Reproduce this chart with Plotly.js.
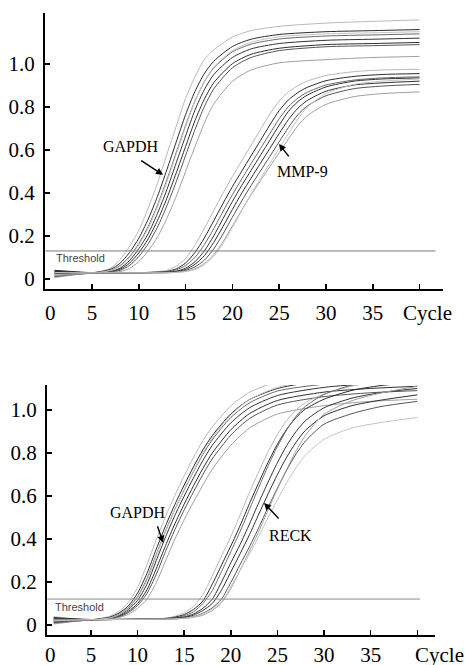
<!DOCTYPE html>
<html>
<head>
<meta charset="utf-8">
<script src="https://cdn.plot.ly/plotly-3.0.1.min.js"></script>
<style>html,body{margin:0;padding:0;background:#fff;}#chart{width:465px;height:665px;}</style>
</head>
<body>
<div id="chart"></div>
<script>
// ---------- DATA ----------
const gapdhCycles = [1,3,5,7,8,9,10,11,12,13,14,15,16,17,18,20,22,25,30,35,40];
const targetCycles = [1,5,10,13,14,15,16,17,18,19,20,21,22,23,24,25,26,27,28,30,33,36,40];

const gapdhTop = [
  [.040,.033,.028,.05,.09,.15,.225,.33,.445,.58,.71,.84,.94,1.02,1.065,1.125,1.155,1.175,1.19,1.198,1.205],
  [.015,.022,.028,.045,.073,.122,.189,.277,.384,.508,.637,.764,.872,.955,1.012,1.081,1.115,1.137,1.15,1.155,1.16],
  [.030,.029,.028,.04,.062,.103,.164,.243,.344,.461,.588,.714,.828,.917,.981,1.056,1.092,1.116,1.13,1.135,1.14],
  [.025,.027,.028,.035,.05,.085,.14,.21,.305,.415,.54,.665,.785,.88,.95,1.03,1.07,1.095,1.11,1.115,1.12],
  [.010,.020,.027,.033,.045,.073,.121,.186,.272,.375,.493,.616,.736,.836,.912,1.001,1.045,1.073,1.09,1.095,1.10],
  [.035,.031,.029,.031,.04,.062,.104,.163,.241,.34,.452,.574,.694,.801,.883,.982,1.03,1.062,1.08,1.085,1.09],
  [.020,.024,.028,.03,.034,.048,.08,.13,.195,.282,.384,.50,.615,.725,.813,.919,.972,1.005,1.02,1.03,1.035],
  [.005,.018,.027,.039,.058,.099,.158,.235,.336,.452,.58,.708,.826,.918,.985,1.062,1.101,1.126,1.14,1.145,1.15]
];
const mmp9Top = [
  [.02,.028,.028,.04,.059,.095,.157,.234,.317,.399,.476,.549,.622,.695,.766,.828,.87,.899,.92,.946,.964,.972,.975],
  [.035,.028,.029,.035,.047,.074,.123,.19,.27,.351,.429,.501,.573,.644,.716,.783,.833,.867,.891,.922,.942,.951,.955],
  [.01,.027,.028,.033,.042,.062,.10,.159,.233,.314,.392,.465,.536,.606,.676,.745,.802,.841,.868,.902,.925,.935,.94],
  [.03,.028,.028,.031,.036,.05,.08,.13,.20,.28,.36,.435,.505,.575,.645,.715,.78,.825,.855,.893,.92,.93,.935],
  [.04,.029,.028,.030,.034,.044,.068,.108,.169,.244,.323,.399,.469,.538,.607,.676,.742,.794,.83,.873,.902,.912,.92],
  [.025,.028,.028,.029,.032,.039,.056,.087,.139,.209,.287,.363,.435,.502,.57,.638,.705,.764,.804,.852,.885,.897,.905],
  [.015,.028,.028,.029,.031,.035,.047,.072,.112,.173,.246,.32,.391,.457,.522,.587,.652,.713,.759,.812,.848,.862,.87],
  [.03,.028,.028,.028,.030,.034,.043,.065,.104,.164,.239,.318,.396,.468,.537,.607,.677,.744,.799,.862,.905,.92,.93]
];
const gapdhBottom = [
  [.03,.027,.025,.041,.064,.105,.176,.281,.397,.505,.603,.694,.78,.857,.92,1.019,1.082,1.132,1.167,1.18,1.19],
  [.01,.018,.024,.037,.056,.089,.149,.24,.353,.462,.561,.651,.736,.814,.88,.982,1.048,1.10,1.137,1.152,1.16],
  [.035,.028,.025,.035,.05,.081,.132,.216,.328,.438,.538,.628,.714,.793,.861,.965,1.033,1.088,1.12,1.14,1.15],
  [.02,.022,.025,.032,.045,.072,.115,.19,.30,.41,.51,.60,.685,.765,.835,.94,1.01,1.067,1.105,1.122,1.13],
  [.015,.02,.025,.03,.041,.064,.10,.164,.262,.37,.471,.563,.648,.728,.799,.908,.983,1.044,1.083,1.10,1.11],
  [.025,.024,.025,.029,.038,.058,.091,.147,.236,.343,.444,.536,.62,.70,.772,.883,.96,1.023,1.062,1.08,1.09],
  [.005,.016,.024,.028,.035,.05,.078,.121,.197,.299,.40,.49,.573,.651,.724,.836,.916,.981,1.02,1.04,1.05],
  [.04,.03,.026,.033,.048,.076,.127,.208,.322,.435,.537,.63,.717,.799,.87,.977,1.048,1.105,1.145,1.16,1.17]
];
const reckBottom = [
  [.02,.025,.027,.033,.041,.057,.087,.142,.228,.321,.412,.512,.616,.714,.806,.886,.951,1.00,1.035,1.074,1.111,1.133,1.15],
  [.03,.025,.028,.031,.037,.049,.073,.112,.189,.279,.368,.463,.565,.663,.757,.841,.911,.965,1.004,1.05,1.091,1.113,1.13],
  [.01,.024,.027,.030,.034,.044,.062,.10,.16,.249,.342,.436,.538,.641,.74,.83,.908,.971,1.017,1.072,1.116,1.142,1.16],
  [.025,.025,.027,.029,.032,.038,.052,.078,.12,.20,.29,.375,.47,.57,.665,.755,.835,.90,.95,1.01,1.055,1.08,1.10],
  [.035,.026,.027,.028,.031,.036,.046,.068,.10,.163,.247,.332,.42,.516,.61,.70,.781,.85,.905,.973,1.02,1.045,1.07],
  [.015,.025,.027,.028,.029,.033,.039,.055,.08,.121,.198,.282,.364,.454,.548,.637,.721,.796,.855,.934,.983,1.015,1.04],
  [.025,.025,.027,.028,.029,.031,.036,.046,.068,.103,.17,.256,.344,.436,.535,.633,.725,.81,.882,.98,1.043,1.078,1.11],
  [.02,.025,.027,.028,.029,.032,.038,.052,.075,.108,.178,.256,.33,.413,.50,.583,.662,.732,.79,.864,.916,.941,.965]
];
const curveColors = ['#b8b8b8','#2a2a2a','#6a6a6a','#333333','#2f2f2f','#555555','#a0a0a0','#c4c4c4'];

const thresholdTop = 0.13, thresholdBottom = 0.121;
const thresholdSpanTop = [0, 41.7], thresholdSpanBottom = [0.3, 40.3];

const xTickVals = [0,5,10,15,20,25,30,35,40];
const xTickText = ['','5','10','15','20','25','30','35',''];
const yTickVals = [0,0.2,0.4,0.6,0.8,1.0];
const yTickText = ['0','0.2','0.4','0.6','0.8','1.0'];

// ---------- TRACES ----------
const traces = [];
function addGroup(cycles, group, xa, ya) {
  group.forEach((ys, i) => {
    traces.push({x: cycles, y: ys, xaxis: xa, yaxis: ya, type: 'scatter', mode: 'lines',
      line: {color: curveColors[i % curveColors.length], width: 1, shape: 'spline', smoothing: 0.7},
      hoverinfo: 'skip', showlegend: false});
  });
}
addGroup(gapdhCycles, gapdhTop, 'x', 'y');
addGroup(targetCycles, mmp9Top, 'x', 'y');
addGroup(gapdhCycles, gapdhBottom, 'x2', 'y2');
addGroup(targetCycles, reckBottom, 'x2', 'y2');
traces.push({x: thresholdSpanTop, y: [thresholdTop, thresholdTop], xaxis: 'x', yaxis: 'y', mode: 'lines',
  line: {color: '#7a7a7a', width: 1}, hoverinfo: 'skip', showlegend: false});
traces.push({x: thresholdSpanBottom, y: [thresholdBottom, thresholdBottom], xaxis: 'x2', yaxis: 'y2', mode: 'lines',
  line: {color: '#8a8a8a', width: 1}, hoverinfo: 'skip', showlegend: false});

const serif = 'Liberation Serif, Times New Roman, serif';
function xAxis(domain, range, anchor, standoff) {
  return {domain, range, anchor, showgrid: false, zeroline: false, showline: true, linecolor: '#000', linewidth: 2,
    ticks: 'inside', ticklen: 5, tickwidth: 1.5, tickcolor: '#000', tickvals: xTickVals, ticktext: xTickText,
    tickfont: {family: serif, size: 21, color: '#000'}, ticklabelstandoff: standoff, fixedrange: true};
}
function yAxis(domain, range, anchor) {
  return {domain, range, anchor, showgrid: false, zeroline: false, showline: true, linecolor: '#000', linewidth: 2,
    ticks: 'inside', ticklen: 5, tickwidth: 1.5, tickcolor: '#000', tickvals: yTickVals, ticktext: yTickText,
    tickfont: {family: serif, size: 21, color: '#000'}, ticklabelstandoff: 4, fixedrange: true};
}

const annFont = {family: serif, size: 16, color: '#000'};
const thrFont = {family: 'Liberation Sans Narrow, Arial Narrow, Liberation Sans, Arial', size: 11, color: '#444'};
const tickFont = {family: serif, size: 21, color: '#000'};
const arrow = {showarrow: true, arrowhead: 2, arrowsize: 1, arrowwidth: 1.4, arrowcolor: '#000', text: ''};
const annotations = [
  {xref: 'x', yref: 'y', x: 9.17, y: 0.614, text: 'GAPDH', showarrow: false, font: annFont},
  Object.assign({xref: 'x', yref: 'y', x: 12.59, y: 0.484, axref: 'x', ayref: 'y', ax: 10.1, ay: 0.555}, arrow),
  {xref: 'x', yref: 'y', x: 27.44, y: 0.498, text: 'MMP-9', showarrow: false, font: annFont},
  Object.assign({xref: 'x', yref: 'y', x: 24.98, y: 0.628, axref: 'x', ayref: 'y', ax: 26.15, ay: 0.563}, arrow),
  {xref: 'x', yref: 'y', x: 0.94, y: 0.098, xanchor: 'left', text: 'Threshold', showarrow: false, font: thrFont},
  {xref: 'paper', yref: 'paper', x: 50/465, y: 1 - 313/665, xanchor: 'center', yanchor: 'middle', text: '0', showarrow: false, font: tickFont},
  {xref: 'paper', yref: 'paper', x: 427/465, y: 1 - 313/665, xanchor: 'center', yanchor: 'middle', text: 'Cycle', showarrow: false, font: tickFont},

  {xref: 'x2', yref: 'y2', x: 10.0, y: 0.522, text: 'GAPDH', showarrow: false, font: annFont},
  Object.assign({xref: 'x2', yref: 'y2', x: 12.73, y: 0.383, axref: 'x2', ayref: 'y2', ax: 12.08, ay: 0.466}, arrow),
  {xref: 'x2', yref: 'y2', x: 26.35, y: 0.415, text: 'RECK', showarrow: false, font: annFont},
  Object.assign({xref: 'x2', yref: 'y2', x: 23.56, y: 0.568, axref: 'x2', ayref: 'y2', ax: 25.28, ay: 0.489}, arrow),
  {xref: 'x2', yref: 'y2', x: 0.92, y: 0.085, xanchor: 'left', text: 'Threshold', showarrow: false, font: thrFont},
  {xref: 'paper', yref: 'paper', x: 50/465, y: 1 - 655/665, xanchor: 'center', yanchor: 'middle', text: '0', showarrow: false, font: tickFont},
  {xref: 'paper', yref: 'paper', x: 439/465, y: 1 - 655/665, xanchor: 'center', yanchor: 'middle', text: 'Cycle', showarrow: false, font: tickFont}
];

const layout = {
  width: 465, height: 665, margin: {l: 0, r: 0, t: 0, b: 0},
  paper_bgcolor: '#fff', plot_bgcolor: '#fff', showlegend: false,
  xaxis: xAxis([45/465, 443/465], [-0.02, 42.5], 'y', 4),
  yaxis: yAxis([1 - 289/665, 1 - 13/665], [-0.047, 1.237], 'x'),
  xaxis2: xAxis([47/465, 435/465], [0.28, 41.9], 'y2', 0),
  yaxis2: yAxis([1 - 635/665, 1 - 385/665], [-0.046, 1.116], 'x2'),
  annotations
};
Plotly.newPlot('chart', traces, layout, {staticPlot: true, displayModeBar: false});
</script>
</body>
</html>
